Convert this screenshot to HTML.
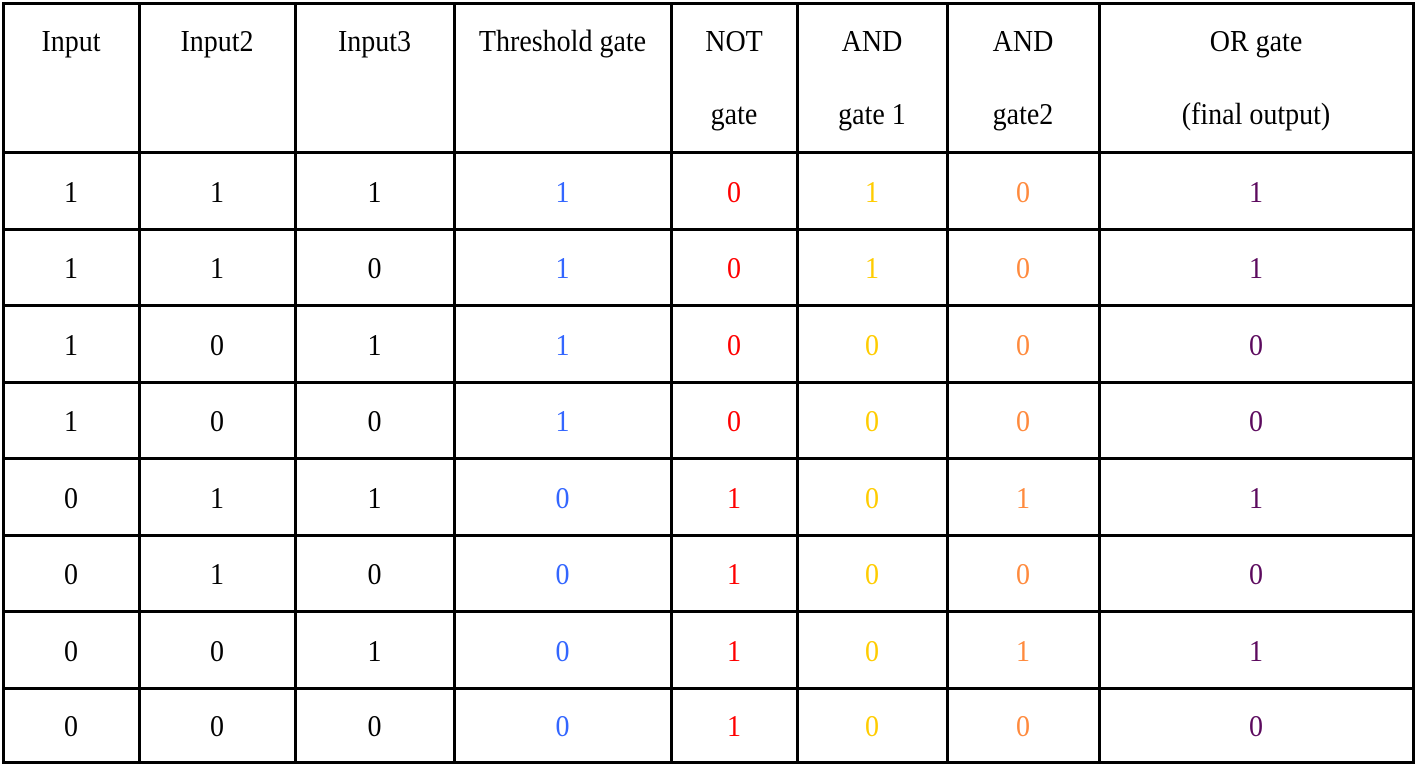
<!DOCTYPE html>
<html><head><meta charset="utf-8"><style>
body{margin:0;width:1416px;height:765px;background:#fff;position:relative;overflow:hidden;font-family:"Liberation Serif",serif;}
.l{position:absolute;background:#000;}
.t{position:absolute;text-align:center;font-size:28px;color:#000;transform:scaleY(1.1);}
.h{position:absolute;text-align:center;font-size:28px;line-height:73px;color:#000;transform:scaleY(1.1);}
</style></head><body>
<div id="tbl"></div>
<script>
const colX=[3,139,295,454,671,797,947,1099,1413];
const rowY=[3,152,229,305,382,458,535,611,688,762];
const headers=[["Input"],["Input2"],["Input3"],["Threshold gate"],["NOT","gate"],["AND","gate 1"],["AND","gate2"],["OR gate","(final output)"]];
const input1=[1,1,1,1,0,0,0,0];
const input2=[1,1,0,0,1,1,0,0];
const input3=[1,0,1,0,1,0,1,0];
const threshold=[1,1,1,1,0,0,0,0];
const notGate=[0,0,0,0,1,1,1,1];
const andGate1=[1,1,0,0,0,0,0,0];
const andGate2=[0,0,0,0,1,0,1,0];
const orGate=[1,1,0,0,1,0,1,0];
const cols=[input1,input2,input3,threshold,notGate,andGate1,andGate2,orGate];
const colors=["#000","#000","#000","#3366ff","#ff0000","#ffcc00","#ff8a3d","#5c0a5e"];
const root=document.getElementById('tbl');
colX.forEach(x=>{const d=document.createElement('div');d.className='l';


d.style.cssText=`left:${x-1}px;top:${rowY[0]-1}px;width:3px;height:${rowY[rowY.length-1]-rowY[0]+3}px`;root.appendChild(d);});
rowY.forEach(y=>{const d=document.createElement('div');d.className='l';


d.style.cssText=`left:${colX[0]-1}px;top:${y-1}px;width:${colX[colX.length-1]-colX[0]+3}px;height:3px`;root.appendChild(d);});
headers.forEach((h,i)=>{h.forEach((txt,j)=>{const d=document.createElement('div');d.className='h';


d.style.cssText=`left:${colX[i]}px;width:${colX[i+1]-colX[i]}px;top:${5+j*73}px`;d.textContent=txt;root.appendChild(d);});});
cols.forEach((arr,i)=>{arr.forEach((v,r)=>{const d=document.createElement('div');d.className='t';


const top=rowY[r+1],bot=rowY[r+2];
d.style.cssText=`left:${colX[i]}px;width:${colX[i+1]-colX[i]}px;top:${top+2}px;height:${bot-top}px;line-height:${bot-top}px;color:${colors[i]}`;d.textContent=v;root.appendChild(d);});});
</script>
</body></html>
